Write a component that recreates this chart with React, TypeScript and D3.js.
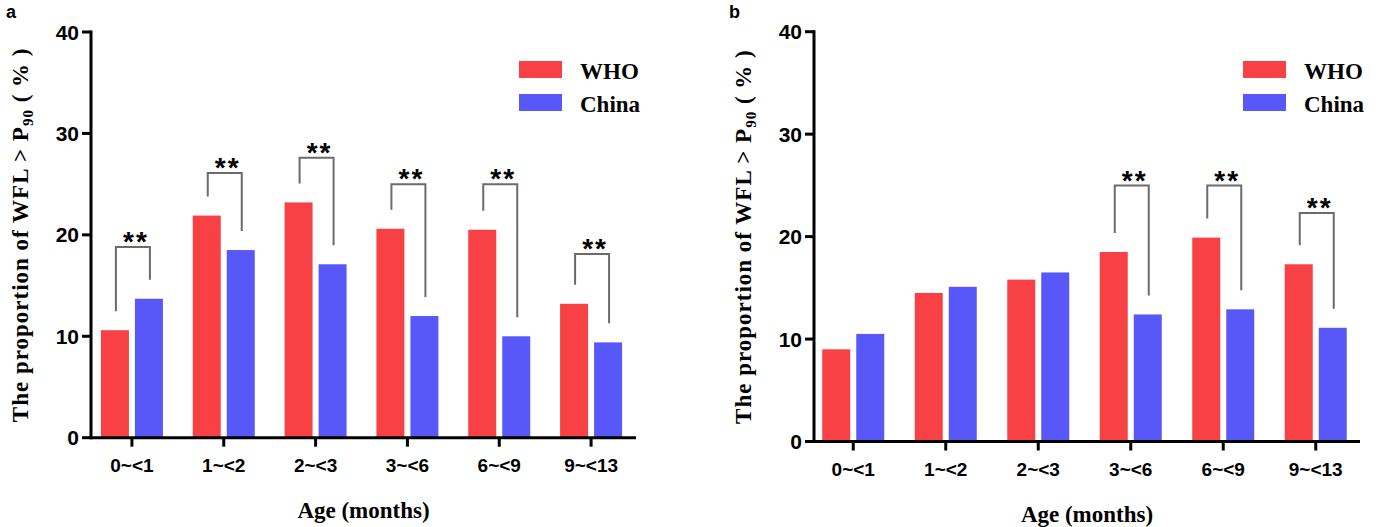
import { useEffect, useRef } from 'react';
import * as d3 from 'd3';

const categories = ['0~<1', '1~<2', '2~<3', '3~<6', '6~<9', '9~<13'];
const seriesNames = ['WHO', 'China'];
const yTicks = [0, 10, 20, 30, 40];

// panel a
const whoA = [10.6, 21.9, 23.2, 20.6, 20.5, 13.2];
const chinaA = [13.7, 18.5, 17.1, 12.0, 10.0, 9.4];
const bracketTopA = [18.8, 26.1, 27.6, 25.0, 25.0, 18.1];

// panel b
const whoB = [9.0, 14.5, 15.8, 18.5, 19.9, 17.3];
const chinaB = [10.5, 15.1, 16.5, 12.4, 12.9, 11.1];
const bracketTopB = [null, null, null, 25.0, 25.0, 22.3];

const colors = ['#f84144', '#5858f8'];
const SERIF = '"Liberation Serif", "Times New Roman", serif';
const SANS = '"Liberation Sans", Arial, sans-serif';

const App = () => {
  const svgRef = useRef(null);

  useEffect(() => {
    const svg = d3.select(svgRef.current);
    svg.selectAll('*').remove();

    const drawPanel = (opts) => {
      const { label, who, china, brackets, axisX, xRange, yRange, axisEnd, legendX } = opts;
      const g = svg.append('g');

      const y = d3.scaleLinear().domain([0, 40]).range(yRange);
      const x = d3.scaleBand().domain(categories).range(xRange);
      const inner = d3.scaleBand().domain(seriesNames).range([-31, 31]).paddingInner(0.1765);
      const base = y(0);

      // bars + significance brackets
      const rows = categories.map((c, i) => ({ c, vals: [who[i], china[i]], top: brackets[i] }));
      rows.forEach((r) => {
        const cx = x(r.c) + x.bandwidth() / 2;
        r.vals.forEach((v, k) => {
          g.append('rect')
            .attr('x', cx + inner(seriesNames[k]))
            .attr('y', y(v))
            .attr('width', inner.bandwidth())
            .attr('height', base - y(v))
            .attr('fill', colors[k]);
        });

        if (r.top != null) {
          const lx = cx + inner('WHO') + inner.bandwidth() / 2 + 1;
          const rx = cx + inner('China') + inner.bandwidth() / 2 + 1;
          const ty = y(r.top);
          g.append('path')
            .attr('d', `M${lx},${y(r.vals[0]) - 19}V${ty}H${rx}V${y(r.vals[1]) - 19}`)
            .attr('fill', 'none')
            .attr('stroke', '#6b6b6b')
            .attr('stroke-width', 2);
          g.append('text')
            .attr('x', (lx + rx) / 2 + 3)
            .attr('y', ty - 12 + 0.58 * 28)
            .attr('text-anchor', 'middle')
            .style('font-family', SANS)
            .style('font-weight', 'bold')
            .style('font-size', '28px')
            .style('letter-spacing', '2px')
            .text('**');
        }
      });

      // y axis
      g.append('line')
        .attr('x1', axisX).attr('x2', axisX)
        .attr('y1', y(40) - 1.5).attr('y2', base + 1.5)
        .attr('stroke', '#000').attr('stroke-width', 3);
      yTicks.forEach((t) => {
        g.append('line')
          .attr('x1', axisX - 9).attr('x2', axisX)
          .attr('y1', y(t)).attr('y2', y(t))
          .attr('stroke', '#000').attr('stroke-width', 3);
        g.append('text')
          .attr('x', axisX - 12)
          .attr('y', y(t) + 7.5)
          .attr('text-anchor', 'end')
          .style('font-family', SANS)
          .style('font-weight', 'bold')
          .style('font-size', '21px')
          .text(t);
      });

      // x axis
      g.append('line')
        .attr('x1', axisX).attr('x2', axisEnd)
        .attr('y1', base).attr('y2', base)
        .attr('stroke', '#000').attr('stroke-width', 3);
      categories.forEach((c) => {
        const cx = x(c) + x.bandwidth() / 2;
        g.append('line')
          .attr('x1', cx).attr('x2', cx)
          .attr('y1', base).attr('y2', base + 9)
          .attr('stroke', '#000').attr('stroke-width', 3);
        g.append('text')
          .attr('x', cx)
          .attr('y', base + 34)
          .attr('text-anchor', 'middle')
          .style('font-family', SANS)
          .style('font-weight', 'bold')
          .style('font-size', '19px')
          .text(c);
      });

      // axis titles
      g.append('text')
        .attr('x', (axisX + axisEnd) / 2)
        .attr('y', base + 80)
        .attr('text-anchor', 'middle')
        .style('font-family', SERIF)
        .style('font-weight', 'bold')
        .style('font-size', '23px')
        .text('Age (months)');

      const yt = g.append('text')
        .attr('transform', `translate(${axisX - 63},${(y(40) + base) / 2}) rotate(-90)`)
        .attr('text-anchor', 'middle')
        .style('font-family', SERIF)
        .style('font-weight', 'bold')
        .style('font-size', '23px')
        .style('letter-spacing', '1px');
      yt.append('tspan').text('The proportion of WFL > P');
      yt.append('tspan').attr('dy', 5).style('font-size', '15px').text('90');
      yt.append('tspan').attr('dy', -5).text(' ( % )');

      // legend
      seriesNames.forEach((s, k) => {
        g.append('rect')
          .attr('x', legendX)
          .attr('y', 61 + k * 33)
          .attr('width', 43)
          .attr('height', 17)
          .attr('fill', colors[k]);
        g.append('text')
          .attr('x', legendX + 61)
          .attr('y', 79 + k * 33)
          .style('font-family', SERIF)
          .style('font-weight', 'bold')
          .style('font-size', '23px')
          .text(s);
      });

      // panel letter
      g.append('text')
        .attr('x', axisX - 85)
        .attr('y', 18)
        .style('font-family', SANS)
        .style('font-weight', 'bold')
        .style('font-size', '18px')
        .text(label);
    };

    drawPanel({
      label: 'a', who: whoA, china: chinaA, brackets: bracketTopA,
      axisX: 91, xRange: [86, 637], yRange: [437.7, 32], axisEnd: 636, legendX: 519,
    });
    drawPanel({
      label: 'b', who: whoB, china: chinaB, brackets: bracketTopB,
      axisX: 814, xRange: [807, 1362], yRange: [441.5, 31.7], axisEnd: 1360, legendX: 1243,
    });
  }, []);

  return (
    <svg
      ref={svgRef}
      width={1380}
      height={527}
      style={{ position: 'absolute', left: 0, top: 0, background: '#fff' }}
    />
  );
};

export default App;
